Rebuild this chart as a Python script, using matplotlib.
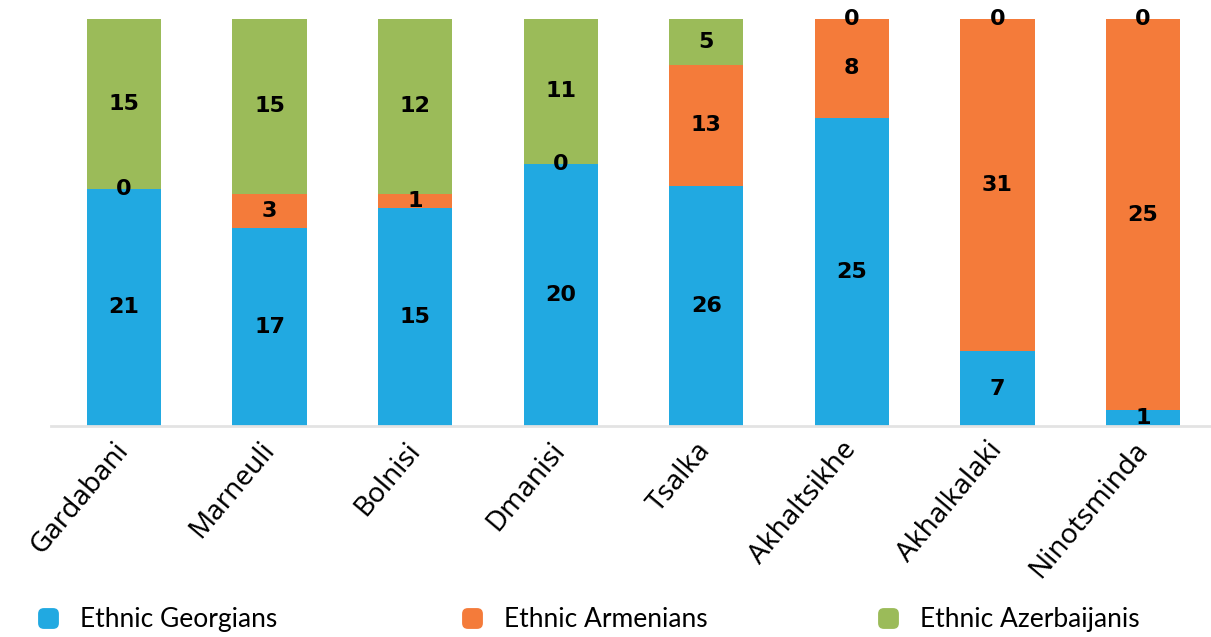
import matplotlib
matplotlib.use("Agg")
import matplotlib.pyplot as plt
import numpy as np
from matplotlib.patches import FancyBboxPatch
from matplotlib.lines import Line2D

# data
districts = ["Gardabani", "Marneuli", "Bolnisi", "Dmanisi", "Tsalka",
             "Akhaltsikhe", "Akhalkalaki", "Ninotsminda"]
georgians = [21, 17, 15, 20, 26, 25, 7, 1]
armenians = [0, 3, 1, 0, 13, 8, 31, 25]
azerbaijanis = [15, 15, 12, 11, 5, 0, 0, 0]
series_names = ["Ethnic Georgians", "Ethnic Armenians", "Ethnic Azerbaijanis"]
colors = ["#21A9E1", "#F47B3A", "#9BBB59"]

counts = np.array([georgians, armenians, azerbaijanis], dtype=float)
shares = counts / counts.sum(axis=0)

fig = plt.figure(figsize=(12.11, 6.37), dpi=100)
ax = fig.add_axes([0.0423, 0.331, 0.9577, 0.639])

x = np.arange(len(districts))
bottom = np.zeros(len(districts))
for i in range(3):
    ax.bar(x, shares[i], 0.51, bottom=bottom, color=colors[i], linewidth=0)
    for j in range(len(districts)):
        ax.text(x[j], bottom[j] + shares[i][j] / 2, str(int(counts[i][j])),
                ha="center", va="center", fontsize=16, fontweight="bold",
                family="DejaVu Sans", color="black")
    bottom += shares[i]

ax.set_xlim(-0.5, 7.467)
ax.set_ylim(0, 1)
ax.set_yticks([])
for s in ["top", "right", "left"]:
    ax.spines[s].set_visible(False)
ax.spines["bottom"].set_color("#e3e3e3")
ax.spines["bottom"].set_linewidth(2)

ax.set_xticks(x)
ax.set_xticklabels(districts, rotation=50, ha="right", va="center",
                   rotation_mode="anchor", fontsize=20, family="Noto Sans")
ax.tick_params(axis="x", length=0, pad=14)

# rounded-square markers, one small legend per series so they sit where the
# original has them
box = FancyBboxPatch((-0.5, -0.5), 1, 1,
                     boxstyle="round,pad=0,rounding_size=0.28").get_path()
legend_x = [27, 451, 867]
for c, name, lx in zip(colors, series_names, legend_x):
    h = Line2D([], [], linestyle="none", marker=box, markersize=15,
               markerfacecolor=c, markeredgewidth=0)
    fig.legend([h], [name], loc="center left",
               bbox_to_anchor=(lx / 1211, 0.027), frameon=False,
               prop={"family": "Lato", "size": 19}, handlelength=1.0,
               handletextpad=0.71, borderpad=0.3, borderaxespad=0.0)

fig.savefig("out.png", dpi=100)
